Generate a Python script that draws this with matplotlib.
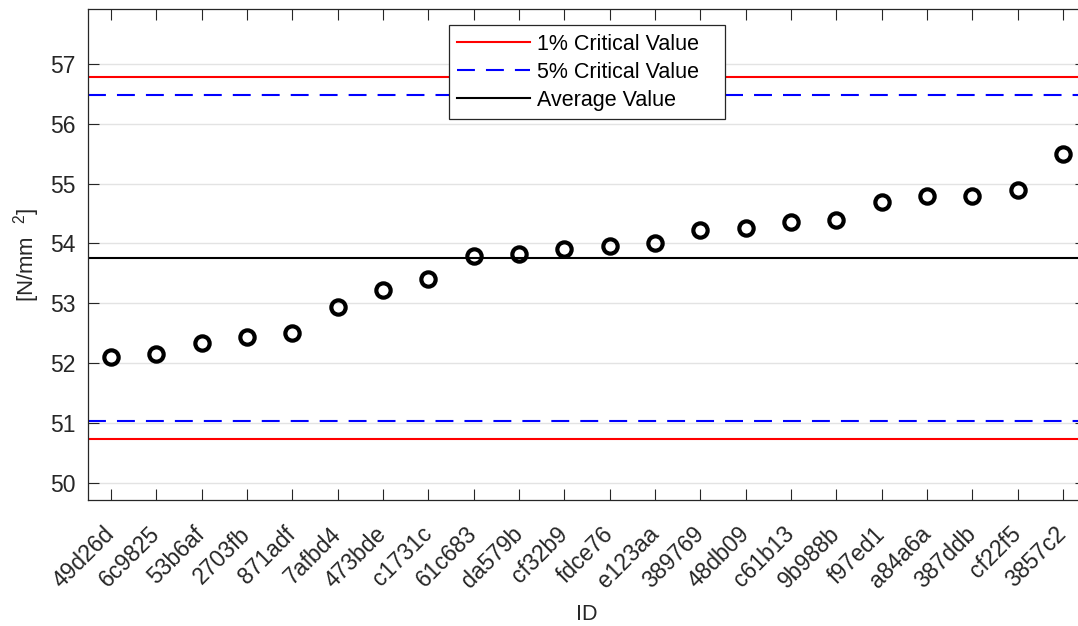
import matplotlib
matplotlib.use("Agg")
import matplotlib.pyplot as plt
import matplotlib.transforms as mtransforms

plt.rcParams['font.family'] = ['Liberation Sans', 'DejaVu Sans']
plt.rcParams['mathtext.fontset'] = 'custom'
plt.rcParams['mathtext.rm'] = 'Liberation Sans'
plt.rcParams['mathtext.it'] = 'Liberation Sans'

ids = ["49d26d", "6c9825", "53b6af", "2703fb", "871adf", "7afbd4", "473bde",
       "c1731c", "61c683", "da579b", "cf32b9", "fdce76", "e123aa", "389769",
       "48db09", "c61b13", "9b988b", "f97ed1", "a84a6a", "387ddb", "cf22f5",
       "3857c2"]
values = [52.11, 52.16, 52.33, 52.43, 52.50, 52.93, 53.23, 53.40, 53.79,
          53.83, 53.90, 53.96, 54.00, 54.23, 54.26, 54.36, 54.40, 54.70,
          54.79, 54.79, 54.89, 55.50]
crit1 = [56.777, 50.730]
crit5 = [56.475, 51.027]
average = 53.754
yticks = [50, 51, 52, 53, 54, 55, 56, 57]
legend_labels = ['1% Critical Value', '5% Critical Value', 'Average Value']

W, H = 1078, 626
fig = plt.figure(figsize=(W / 100, H / 100), dpi=100)
left, right, top, bottom = 88.3, 1085.6, 9.3, 500.0
ax = fig.add_axes([left / W, 1 - bottom / H, (right - left) / W, (bottom - top) / H])

tc = '#262626'
x = list(range(1, len(ids) + 1))

dash = (8.6, 5.3)
l1 = ax.axhline(crit1[0], color=(1, 0, 0), lw=1.5, zorder=2)
ax.axhline(crit1[1], color=(1, 0, 0), lw=1.5, zorder=2)
l5 = ax.axhline(crit5[0], color=(0, 0, 1), lw=1.5, dashes=dash, zorder=2)
ax.axhline(crit5[1], color=(0, 0, 1), lw=1.5, dashes=dash, zorder=2)
la = ax.axhline(average, color='black', lw=1.5, zorder=2)

ax.plot(x, values, linestyle='none', marker='o', markersize=10.3,
        markerfacecolor='none', markeredgecolor='black', markeredgewidth=3.0,
        zorder=3)

ax.set_xlim(0.5, 22.5)
ax.set_ylim(49.711, 57.915)
ax.set_yticks(yticks)
ax.set_xticks(x)
ax.set_xticklabels(ids, rotation=45, ha='right', va='center',
                   rotation_mode='anchor')
offset = mtransforms.ScaledTranslation(2 / 100, 0, fig.dpi_scale_trans)
for lab in ax.get_xticklabels():
    lab.set_transform(lab.get_transform() + offset)

ax.grid(axis='y', color='#e3e3e3', lw=1.0, zorder=0)
ax.set_axisbelow(True)
ax.tick_params(axis='both', direction='in', length=7.8, width=0.8,
               color=tc, labelcolor=tc, labelsize=16.5,
               top=True, right=True)
ax.tick_params(axis='y', pad=9)
ax.tick_params(axis='x', pad=22)
for s in ax.spines.values():
    s.set_color(tc)
    s.set_linewidth(0.9)

ax.set_xlabel('ID', fontsize=15.5, color=tc, labelpad=8)
ax.set_ylabel('[N/mm  $^{2}$]', fontsize=16, color=tc, labelpad=6)

nb = '\u00a0' * 3
leg = ax.legend([l1, l5, la], [s + nb for s in legend_labels],
                loc='upper center', bbox_to_anchor=(0.5, 1 - 15.7 / 490.7),
                borderaxespad=0, fontsize=15.5, handlelength=3.4,
                handletextpad=0.3, labelspacing=0.33, borderpad=0.4,
                fancybox=False, framealpha=1, edgecolor='#262626')
leg.get_frame().set_linewidth(0.9)

fig.savefig('out.png', dpi=100)
